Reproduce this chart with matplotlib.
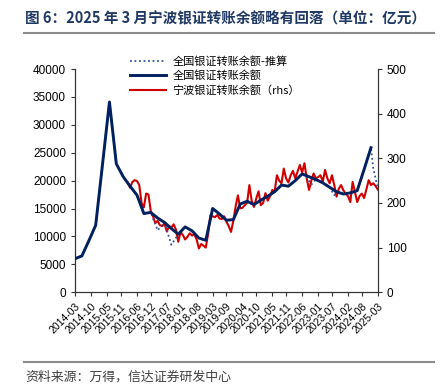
import matplotlib
matplotlib.use("Agg")
import matplotlib.pyplot as plt
import pandas as pd

plt.rcParams['font.family'] = ['Liberation Sans', 'Noto Sans CJK SC', 'DejaVu Sans']

# month axis: 2014-03 .. 2025-03
months = pd.date_range('2014-03-01', '2025-03-01', freq='MS').strftime('%Y-%m').tolist()

# national bank-securities transfer balance (quarterly, 亿元)
national_months = pd.date_range('2014-03-01', '2024-12-01', freq='3MS').strftime('%Y-%m').tolist()
national_values = [6000, 6500, 9200, 12000, 23000, 34100, 23000, 20700, 19000, 17400,
                   14100, 14300, 13300, 12500, 11400, 10400, 11700, 11000, 9700, 9300,
                   15000, 14000, 12900, 13000, 15800, 16300, 15700, 16500, 17200, 18000,
                   19200, 19000, 20000, 21200, 20700, 20200, 19600, 18800, 18000, 17600,
                   17800, 18200, 22000, 25900]

# national balance - estimated (dotted)
est_months = ['2014-03', '2014-06', '2014-09', '2014-12', '2015-03', '2015-06', '2015-09',
              '2015-12', '2016-03', '2016-06', '2016-09', '2016-12', '2017-01', '2017-03',
              '2017-06', '2017-09', '2017-12', '2018-03', '2018-06', '2018-09', '2018-12',
              '2019-03', '2019-06', '2019-09', '2019-12', '2020-03', '2020-06', '2020-09',
              '2020-12', '2021-03', '2021-06', '2021-09', '2021-12', '2022-03', '2022-06',
              '2022-08', '2022-10', '2022-12', '2023-03', '2023-06', '2023-08', '2023-09',
              '2023-12', '2024-03', '2024-06', '2024-09', '2024-12', '2025-01', '2025-03']
est_values = [6000, 6500, 9200, 12000, 23000, 34100, 23000, 20700, 19000, 17400, 14100,
              14300, 13200, 11100, 12500, 8500, 10400, 11700, 11000, 9700, 9300, 15000,
              14000, 12900, 13000, 15800, 16300, 15700, 16500, 17200, 18000, 19200, 19000,
              20000, 21200, 20600, 19300, 20200, 19600, 18800, 17400, 18000, 17600, 17800,
              18200, 22000, 25900, 22200, 18600]

# Ningbo bank-securities transfer balance (monthly, rhs, 亿元), 2016-02 .. 2025-03
ningbo_start = '2016-02'
ningbo_values = [245, 234, 247, 251, 249, 240, 200, 190, 221, 219, 182, 170, 155, 160, 150,
                 148, 154, 136, 148, 145, 152, 140, 113, 135, 128, 118, 124, 132, 127, 130,
                 118, 98, 108, 104, 100, 130, 172, 170, 168, 173, 165, 164, 170, 158, 148,
                 135, 160, 192, 217, 188, 189, 195, 200, 240, 205, 191, 210, 226, 195, 200,
                 222, 205, 215, 229, 225, 262, 250, 244, 277, 255, 246, 262, 272, 255, 270,
                 285, 268, 289, 255, 229, 250, 266, 255, 258, 262, 248, 274, 255, 244, 262,
                 240, 214, 232, 240, 228, 221, 215, 202, 247, 225, 202, 215, 221, 211, 230,
                 251, 240, 244, 238, 230]

tick_labels = ['2014-03', '2014-10', '2015-05', '2015-11', '2016-06', '2016-12', '2017-07',
               '2018-01', '2018-08', '2019-03', '2019-09', '2020-04', '2020-10', '2021-05',
               '2021-11', '2022-06', '2023-01', '2023-07', '2024-02', '2024-08', '2025-03']

pos = {m: i for i, m in enumerate(months)}
nat_x = [pos[m] for m in national_months]
est_x = [pos[m] for m in est_months]
nb_x = list(range(pos[ningbo_start], pos[ningbo_start] + len(ningbo_values)))

navy = '#002060'
red = '#D00000'

fig = plt.figure(figsize=(4.44, 3.88), dpi=100)
ax = fig.add_axes([0.169, 0.247, 0.682, 0.575])
ax2 = ax.twinx()

l1, = ax.plot(est_x, est_values, color='#2E54A4', lw=1.3, ls=(0, (1, 1.5)), zorder=2,
              label='全国银证转账余额-推算')
l2, = ax.plot(nat_x, national_values, color=navy, lw=2.1, zorder=3,
              label='全国银证转账余额')
l3, = ax2.plot(nb_x, ningbo_values, color=red, lw=1.5, label='宁波银证转账余额（rhs）')

ax.set_xlim(0, len(months) - 1)
ax.set_ylim(0, 40000)
ax.set_yticks(range(0, 40001, 5000))
ax2.set_ylim(0, 500)
ax2.set_yticks(range(0, 501, 100))
ax.set_xticks([pos[m] for m in tick_labels])
ax.set_xticklabels(tick_labels, rotation=45, ha='right', rotation_mode='anchor', fontsize=7.5)
ax.tick_params(axis='y', labelsize=8.5, length=3, width=0.8, colors='#333333', labelcolor='black')
ax2.tick_params(axis='y', labelsize=8.5, length=3, width=0.8, colors='#333333', labelcolor='black')
ax.tick_params(axis='x', length=3, width=0.8, colors='#333333', labelcolor='black')

for a in (ax, ax2):
    a.spines['top'].set_visible(False)
    for s in ('left', 'right', 'bottom'):
        a.spines[s].set_color('#333333')
        a.spines[s].set_linewidth(0.8)

ax.set_zorder(ax2.get_zorder() + 1)
ax.patch.set_visible(False)

fig.legend(handles=[l1, l2, l3], loc='upper left', bbox_to_anchor=(0.293, 0.856),
           frameon=False, handlelength=3.2, handletextpad=0.6,
           labelspacing=0.35, borderaxespad=0, borderpad=0,
           prop={'family': ['Noto Sans CJK SC'], 'size': 8})

fig.text(0.056, 0.953, '图 6：2025 年 3 月宁波银证转账余额略有回落（单位：亿元）',
         fontsize=10.5, fontweight='bold', color='#1F3864', va='center',
         family=['Noto Sans CJK SC'])
fig.add_artist(plt.Line2D([0.054, 0.978], [0.915, 0.915], color='#8C8C8C', lw=1.5))
fig.add_artist(plt.Line2D([0.054, 0.978], [0.066, 0.066], color='#8C8C8C', lw=1.5))
fig.text(0.056, 0.028, '资料来源：万得，信达证券研发中心', fontsize=9.3, color='#404040',
         va='center', family=['Noto Sans CJK SC'])

fig.savefig('out.png', dpi=100)
